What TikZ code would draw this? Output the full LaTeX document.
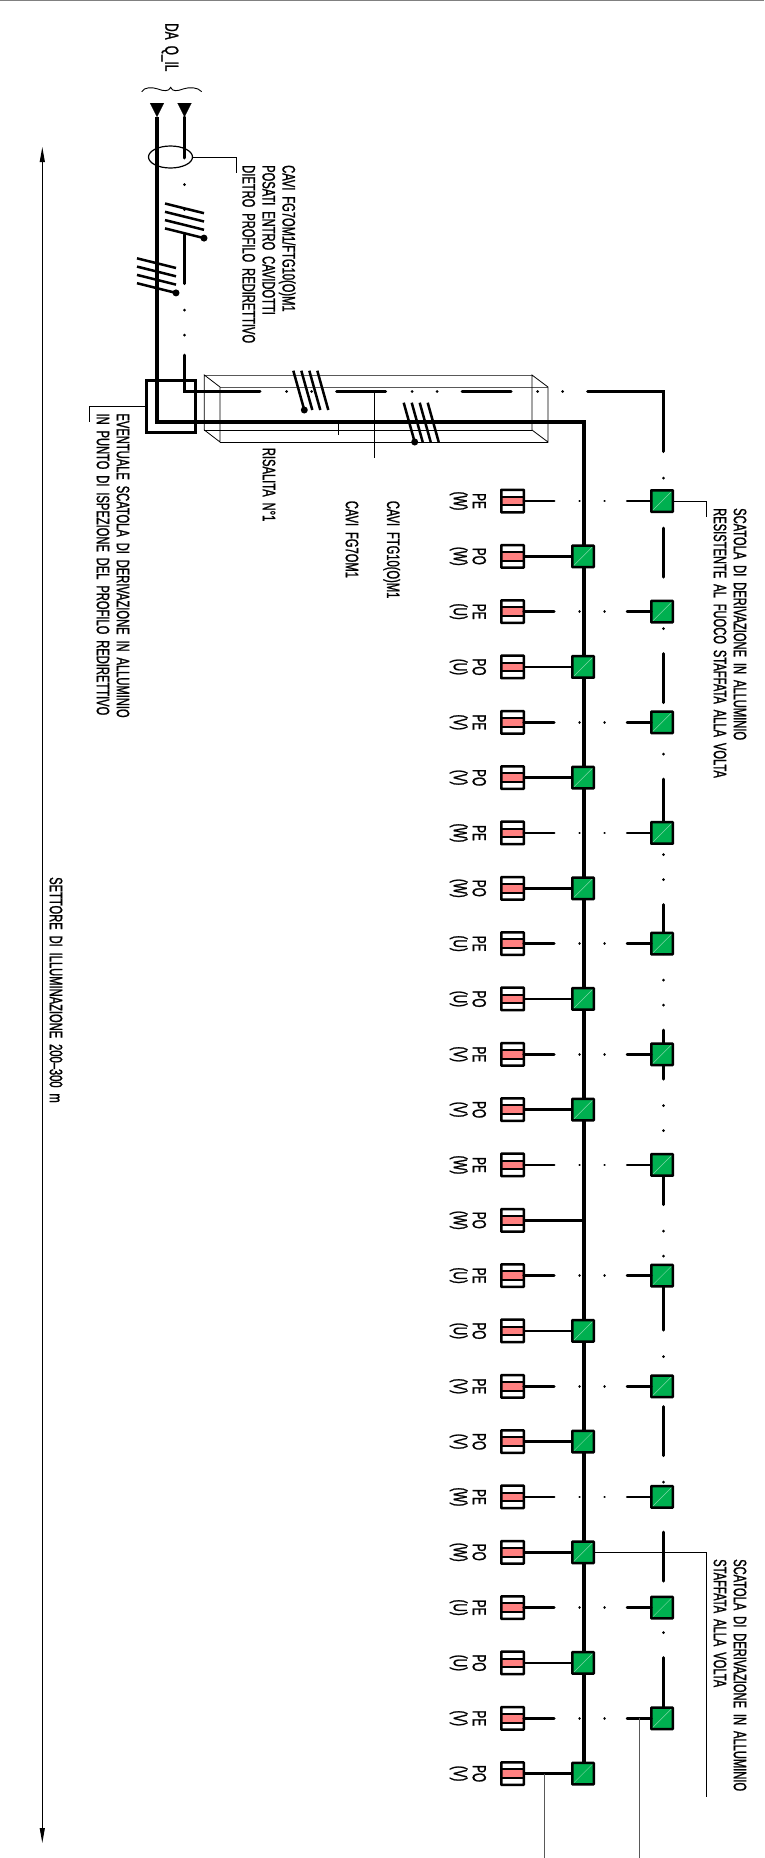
\documentclass[tikz,border=0pt]{standalone}
\usepackage{fontspec}
\setmainfont[FakeStretch=0.62,FakeBold=1.2,WordSpace=1.9]{Liberation Sans}
\usepackage{xcolor}
\usepackage{tikz}
\usetikzlibrary{arrows.meta}
\usetikzlibrary{shapes.geometric}
\definecolor{verde}{HTML}{00B050}
\definecolor{rosa}{HTML}{FF8080}
\tikzset{
  scritta/.style={font=\fontsize{18}{20}\selectfont, rotate=-90, anchor=west, inner sep=0pt, align=left},
  sigla/.style={font=\fontsize{19}{20}\selectfont, rotate=-90, inner sep=0pt},
  guida/.style={line width=.8pt},
  filo/.style={line width=2.6pt},
  cavo/.style={line width=3pt, line cap=round},
  tratto/.style={cavo, dash pattern=on 49pt off 26.5pt on .01pt off 25pt on .01pt off 25pt},
  dorsale/.style={line width=3.5pt},
  tacca/.style={line width=2.5pt},
  linkpe/.style={filo, line cap=round, dash pattern=on 30.5pt off 25.3pt on .01pt off 25pt on .01pt off 22.5pt on 100pt},
  presa/.style={draw, fill=white, line width=2.5pt, rounded corners=.5pt, minimum size=22.5pt, inner sep=0pt, outer sep=0pt,
    path picture={
      \fill[rosa] ([yshift=4.3pt]path picture bounding box.west) rectangle ([yshift=-4.3pt]path picture bounding box.east);
      \draw[line width=2pt] ([yshift=4.3pt]path picture bounding box.west) -- ([yshift=4.3pt]path picture bounding box.east);
      \draw[line width=2pt] ([yshift=-4.3pt]path picture bounding box.west) -- ([yshift=-4.3pt]path picture bounding box.east);
    }},
  scatola/.style={draw, fill=verde, line width=2.5pt, rounded corners=.5pt, minimum size=21.5pt, inner sep=0pt, outer sep=0pt,
    path picture={
      \draw[verde!50!white, line width=.5pt] (path picture bounding box.south west) -- (path picture bounding box.north east);
    }},
}

\begin{document}
\begin{tikzpicture}[x=1pt,y=-1pt]
  \useasboundingbox (0,0) rectangle (764,1858);
  \draw [gray, line width=1.2pt] (0,.5) -- (764,.5);

  \coordinate (testaA) at (157,103);
  \coordinate (testaB) at (184.5,103);
  \coordinate (entrataA) at (157,117);
  \coordinate (entrataB) at (184.5,117);
  \coordinate (angoloA) at (157,422);
  \coordinate (angoloB) at (584,422);
  \coordinate (busfine) at (584,1773.6);
  \coordinate (salitaA) at (184.5,355);
  \coordinate (salitaB) at (184.5,391);
  \coordinate (tiroA) at (260,391);
  \coordinate (tiroB) at (587.5,391);
  \coordinate (tiroC) at (663,391);
  \coordinate (discesaA) at (663,451.5);
  \coordinate (discesaB) at (663,1718);

  % arrivo dal quadro
  \node [sigla, anchor=west] (quadro) at (170,23) {DA Q\_IL};
  \draw [line width=.9pt] (141.7,91.7) .. controls (144,87) and (152,87) .. (158,89)
    .. controls (163,91) and (169,92) .. (170.7,87.3)
    .. controls (172,92) and (178,91) .. (183,89)
    .. controls (189,87) and (198,87) .. (201.7,91.7);
  \draw [line width=.1pt, -{Triangle[length=14pt,width=14pt]}] (testaA) -- (entrataA);
  \draw [line width=.1pt, -{Triangle[length=14pt,width=14pt]}] (testaB) -- (entrataB);

  % risalita
  \draw [guida, gray!70!black] (204.3,375) -- (532,375);
  \draw [guida, gray!70!black] (220,387) -- (548,387);
  \draw [guida] (204.3,430) -- (532,430);
  \draw [guida] (220,442) -- (548,442);
  \draw [guida] (204.3,375) -- (204.3,430) -- (220,442) -- (220,387) -- cycle;
  \draw [guida] (532,375) -- (532,430) -- (548,442) -- (548,387) -- cycle;

  % cavi
  \draw [dorsale] (entrataA) -- (angoloA) -- (angoloB) -- (busfine);
  \draw [tratto, dash phase=8pt] (entrataB) -- (salitaA);
  \draw [cavo] (salitaA) -- (salitaB) -- (tiroA);
  \draw [tratto, dash phase=49pt] (tiroA) -- (tiroB);
  \draw [cavo] (tiroB) -- (tiroC) -- (discesaA);
  \draw [tratto, dash phase=49pt] (discesaA) -- (discesaB);

  % tacche dei conduttori
  \foreach \xa/\ya in {165/203.5,137/258.3} {
    \foreach \n in {0,1,2,3}
      \draw [tacca] (\xa,\ya+8.3*\n) -- (\xa+39,\ya+8.3*\n+9.7);
    \fill (\xa+39,\ya+34.6) circle (3.5);
  }
  \foreach \xa/\ya in {293.3/370.7,403.7/402.7} {
    \foreach \n in {0,1,2,3}
      \draw [tacca] (\xa+8*\n,\ya) -- (\xa+8*\n+11,\ya+39.3);
    \fill (\xa+11,\ya+39.3) circle (3.5);
  }

  \node [draw, line width=2.8pt, minimum width=49pt, minimum height=52pt, inner sep=0pt] (giunto) at (170.8,406.5) {};
  \node [draw, ellipse, line width=1.2pt, minimum width=44pt, minimum height=22pt, inner sep=0pt] (fascio) at (170.5,157) {};

  % file di prese e scatole
  \foreach \fase [count=\i from 0] in {W,W,U,U,V,V,W,W,U,U,V,V,W,W,U,U,V,V,W,W,U,U,V,V} {
    \pgfmathsetmacro{\yr}{501+55.33*\i}
    \node [presa] (presa\i) at (512.5,\yr) {};
    \ifodd\i
      \node [sigla] (sigla\i) at (479.3,\yr) {PO};
      \ifnum\i=13
        \draw [filo] (presa\i) -- (presa\i -| busfine);
      \else
        \node [scatola] (box\i) at (583,\yr) {};
        \draw [filo] (presa\i) -- (box\i);
      \fi
    \else
      \node [sigla] (sigla\i) at (479.3,\yr) {PE};
      \node [scatola] (box\i) at (662,\yr) {};
      \draw [linkpe] (presa\i.east) -- (box\i.west);
    \fi
    \node [sigla] (fase\i) at (458.7,\yr) {(\fase)};
  }

  % richiami
  \coordinate (richiamoA) at (236,173);
  \coordinate (richiamoB) at (89.5,421.7);
  \coordinate (richiamoC) at (338.7,434.7);
  \coordinate (richiamoD) at (374.3,458);
  \coordinate (richiamoE) at (706.3,516.7);
  \coordinate (richiamoF) at (706.3,1796.7);
  \coordinate (fineA) at (544.3,1858);
  \coordinate (fineB) at (639,1858);
  \draw [guida] (fascio) -- (fascio -| richiamoA) -- (richiamoA);
  \draw [guida] (giunto) -- (giunto -| richiamoB) -- (richiamoB);
  \draw [guida] (richiamoC |- angoloA) -- (richiamoC);
  \draw [guida] (richiamoD |- salitaB) -- (richiamoD);
  \draw [guida] (box0) -- (box0 -| richiamoE) -- (richiamoE);
  \draw [guida] (box19) -- (box19 -| richiamoF) -- (richiamoF);
  \draw [guida, gray!70!black] (fineA |- box23) -- (fineA);
  \draw [guida, gray!70!black] (fineB |- box22) -- (fineB);

  % quota
  \coordinate (quotaA) at (42.3,147);
  \coordinate (quotaB) at (42.3,1843);
  \draw [line width=1pt, {Triangle[length=15pt,width=5pt]}-{Triangle[length=15pt,width=5pt]}] (quotaA) -- (quotaB);

  % testi
  \node [scritta] (cavifascio) at (269,165) {CAVI FG7OM1/FTG10(O)M1\\POSATI ENTRO CAVIDOTTI\\DIETRO PROFILO REDIRETTIVO};
  \node [scritta] (eventuale) at (113,413.3) {EVENTUALE SCATOLA DI DERIVAZIONE IN ALLUMINIO\\IN PUNTO DI ISPEZIONE DEL PROFILO REDIRETTIVO};
  \node [scritta] (risalita) at (269,447.7) {RISALITA N°1};
  \node [scritta] (cavifg) at (352,500.7) {CAVI FG7OM1};
  \node [scritta] (caviftg) at (391.7,500.7) {CAVI FTG10(O)M1};
  \node [scritta] (settore) at (56,877) {SETTORE DI ILLUMINAZIONE 200–300 m};
  \node [scritta] (scatolaA) at (730,508) {SCATOLA DI DERIVAZIONE IN ALLUMINIO\\RESISTENTE AL FUOCO STAFFATA ALLA VOLTA};
  \node [scritta] (scatolaB) at (730,1559) {SCATOLA DI DERIVAZIONE IN ALLUMINIO\\STAFFATA ALLA VOLTA};
\end{tikzpicture}
\end{document}
